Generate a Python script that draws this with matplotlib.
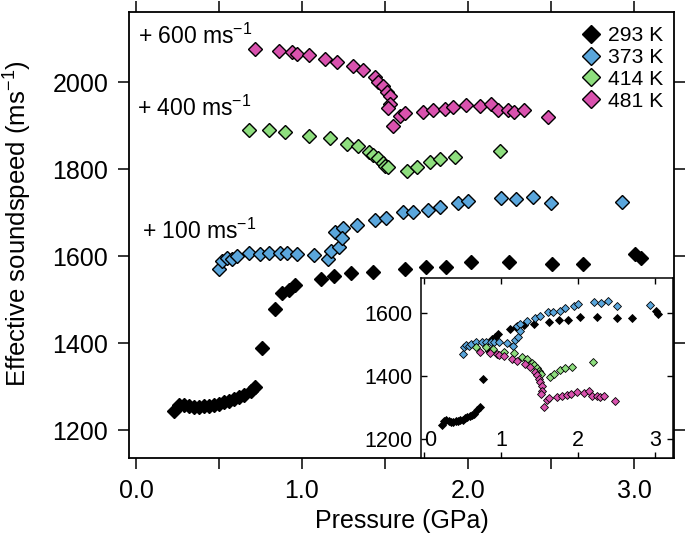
import matplotlib
matplotlib.use("Agg")
import matplotlib.pyplot as plt
import numpy as np

plt.rcParams['font.family'] = ['Liberation Sans', 'DejaVu Sans']
plt.rcParams['mathtext.fontset'] = 'custom'
plt.rcParams['mathtext.rm'] = 'Liberation Sans'
plt.rcParams['mathtext.it'] = 'Liberation Sans:italic'
plt.rcParams['mathtext.bf'] = 'Liberation Sans:bold'

# ---------------- data (raw sound speeds, m/s) ----------------
p293 = [0.23, 0.26, 0.29, 0.32, 0.35, 0.38, 0.41, 0.44, 0.47, 0.50, 0.53, 0.56,
        0.59, 0.62, 0.65, 0.69, 0.72, 0.76, 0.84, 0.88, 0.92, 0.96, 1.115, 1.19,
        1.295, 1.425, 1.62, 1.745, 1.867, 2.017, 2.245, 2.504, 2.695, 3.005, 3.04]
v293 = [1243, 1257, 1259, 1255, 1254, 1254, 1255, 1256, 1259, 1261, 1265, 1268,
        1272, 1276, 1280, 1290, 1300, 1390, 1478, 1516, 1522, 1533, 1548, 1555,
        1562, 1565, 1571, 1576, 1576, 1586, 1586, 1583, 1583, 1606, 1597]

p373 = [0.50, 0.52, 0.55, 0.58, 0.61, 0.68, 0.75, 0.80, 0.87, 0.91, 0.97, 1.07,
        1.155, 1.175, 1.22, 1.20, 1.245, 1.24, 1.33, 1.44, 1.505, 1.61, 1.67, 1.76,
        1.83, 1.94, 2.00, 2.20, 2.29, 2.39, 2.50, 2.93]
v373 = [1470, 1490, 1496, 1494, 1500, 1508, 1506, 1508, 1507, 1507, 1506, 1504,
        1494, 1513, 1522, 1557, 1565, 1541, 1573, 1584, 1588, 1603, 1602, 1606,
        1614, 1622, 1628, 1633, 1631, 1637, 1622, 1625]

p414 = [0.68, 0.80, 0.90, 1.04, 1.17, 1.27, 1.335, 1.405, 1.43, 1.46, 1.49, 1.50,
        1.52, 1.63, 1.69, 1.77, 1.83, 1.92, 2.19]
v414 = [1490, 1490, 1486, 1476, 1473, 1459, 1453, 1441, 1434, 1426, 1415, 1408,
        1406, 1396, 1405, 1418, 1425, 1428, 1443]

p481 = [0.72, 0.86, 0.94, 0.97, 1.04, 1.14, 1.21, 1.31, 1.37, 1.44, 1.46, 1.49,
        1.51, 1.53, 1.53, 1.52, 1.55, 1.59, 1.62, 1.73, 1.79, 1.86, 1.91, 1.99,
        2.07, 2.14, 2.18, 2.24, 2.28, 2.34, 2.48]
v481 = [1476, 1472, 1469, 1465, 1462, 1454, 1447, 1437, 1428, 1412, 1402, 1391,
        1379, 1368, 1350, 1341, 1300, 1322, 1330, 1331, 1337, 1340, 1343, 1347,
        1346, 1350, 1337, 1336, 1333, 1336, 1321]

labels = ['293 K', '373 K', '414 K', '481 K']
offsets = [0, 100, 400, 600]
colors = ['#000000', '#5aa6dc', '#8ede7e', '#d952ae']
offset_labels = ['+ 100 ms$^{-1}$', '+ 400 ms$^{-1}$', '+ 600 ms$^{-1}$']

series = [(p293, v293), (p373, v373), (p414, v414), (p481, v481)]

# ---------------- figure ----------------
fig = plt.figure(figsize=(6.85, 5.41), dpi=100)
ax = fig.add_axes([0.1883, 0.1534, 0.7957, 0.8244])

for (p, v), off, c, lab in zip(series, offsets, colors, labels):
    ax.plot(p, np.asarray(v) + off, linestyle='none', marker='D', ms=7.6,
            mfc=c, mec='black', mew=1.0, label=lab)

ax.set_xlim(-0.042, 3.241)
ax.set_ylim(1136, 2162)
ax.set_xticks([0, 1, 2, 3])
ax.set_xticklabels(['0.0', '1.0', '2.0', '3.0'])
ax.set_xticks([0.5, 1.5, 2.5], minor=True)
ax.set_yticks([1200, 1400, 1600, 1800, 2000])
ax.tick_params(which='both', direction='out', length=8, width=1.1,
               top=True, right=True, labelsize=18, pad=7)
for s in ax.spines.values():
    s.set_linewidth(1.3)

ax.set_xlabel('Pressure (GPa)', fontsize=18)
ax.set_ylabel('Effective soundspeed (ms$^{-1}$)', fontsize=18.5)
ax.yaxis.set_label_coords(-0.174, 0.525)
ax.xaxis.set_label_coords(0.5, -0.115)

# offset annotations
ax.text(0.01, 2089, offset_labels[2], fontsize=16.5, ha='left', va='baseline')
ax.text(0.004, 1922, offset_labels[1], fontsize=16.5, ha='left', va='baseline')
ax.text(0.034, 1640, offset_labels[0], fontsize=16.5, ha='left', va='baseline')

leg = ax.legend(loc='upper right', bbox_to_anchor=(0.981, 0.968), frameon=False,
                fontsize=15.2, handlelength=0.8, handletextpad=0.4,
                labelspacing=0.13, borderpad=0, borderaxespad=0,
                markerscale=1.2)

# ---------------- inset ----------------
ax_in = fig.add_axes([0.6146, 0.1534, 0.3679, 0.3322])
ax_in.set_facecolor('white')
for (p, v), c in zip(series, colors):
    ax_in.plot(p, v, linestyle='none', marker='D', ms=3.7,
               mfc=c, mec='black', mew=0.6)
ax_in.set_xlim(-0.04, 3.23)
ax_in.set_ylim(1139, 1709)
ax_in.set_xticks([0, 1, 2, 3])
ax_in.set_xticklabels(['0', '1', '2', '3'])
ax_in.set_yticks([1200, 1400, 1600])
ax_in.tick_params(which='both', direction='in', length=4, width=1.0,
                  top=True, right=True, labelsize=15.5)
ax_in.tick_params(axis='x', pad=-20.5)
ax_in.tick_params(axis='y', pad=6)
ax_in.get_xticklabels()[0].set_horizontalalignment('left')
for s in ax_in.spines.values():
    s.set_linewidth(1.1)

fig.savefig('out.png', dpi=100)
